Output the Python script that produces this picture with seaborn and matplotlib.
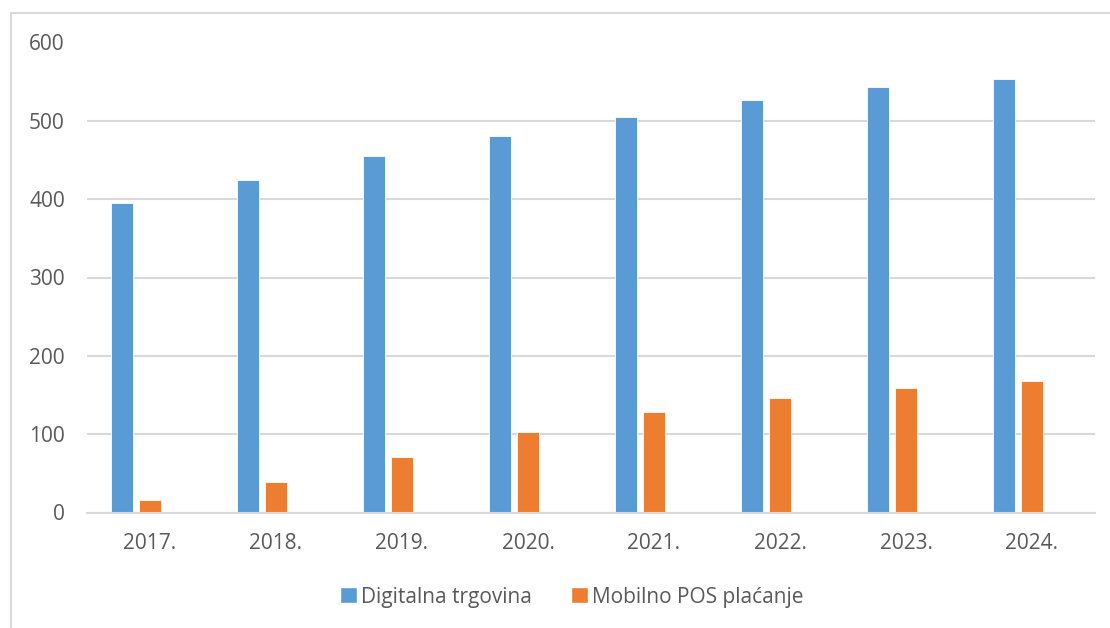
import pandas as pd
import matplotlib.pyplot as plt
import seaborn as sns
from matplotlib.patches import Patch, Rectangle

years = ['2017.', '2018.', '2019.', '2020.', '2021.', '2022.', '2023.', '2024.']
digitalna = [395, 424, 455, 480, 505, 526, 543, 554]
mobilno = [16, 39, 71, 103, 128, 146, 159, 168]

s1 = 'Digitalna trgovina'
s2 = 'Mobilno POS plaćanje'
s3 = 'prazno'  # empty third series, keeps the gap on the right like in Excel

blue = '#5b9bd5'
orange = '#ed7d31'
grid_c = '#d9d9d9'
text_c = '#595959'

df = pd.DataFrame({
    'godina': years * 2,
    'serija': [s1] * len(years) + [s2] * len(years),
    'vrijednost': digitalna + mobilno,
})

sns.set_style('white')
plt.rcParams['font.family'] = ['Open Sans', 'DejaVu Sans']

fig = plt.figure(figsize=(11.1, 6.28), dpi=100)
ax = fig.add_axes([87 / 1110, 1 - 512.5 / 628, 1008 / 1110, 470 / 628])

sns.barplot(data=df, x='godina', y='vrijednost', hue='serija',
            hue_order=[s1, s2, s3], palette=[blue, orange, 'white'],
            order=years, width=0.667, gap=0.21, legend=False, saturation=1,
            edgecolor='white', linewidth=0.6, ax=ax, zorder=3)

ax.set_ylim(0, 600)
ax.set_yticks(range(0, 601, 100))
ax.set_xlim(-0.5, len(years) - 0.5)
ax.yaxis.grid(True, color=grid_c, linewidth=1.5, zorder=0)
ax.set_axisbelow(True)
for sp in ['top', 'right', 'left']:
    ax.spines[sp].set_visible(False)
ax.spines['bottom'].set_color(grid_c)
ax.spines['bottom'].set_linewidth(1.5)
ax.spines['bottom'].set_zorder(4)
ax.set_xlabel('')
ax.set_ylabel('')
ax.tick_params(axis='both', length=0, labelsize=15, labelcolor=text_c)
ax.tick_params(axis='y', pad=16)
ax.tick_params(axis='x', pad=15)

handles = [Patch(facecolor=blue, label=s1), Patch(facecolor=orange, label=s2)]
fig.legend(handles=handles, loc='center', bbox_to_anchor=(572 / 1110, 1 - 597 / 628),
           ncol=2, frameon=False, fontsize=15, labelcolor=text_c,
           handlelength=0.8, handleheight=0.8, handletextpad=0.2, columnspacing=1.9)

# chart border (only left and top edge visible in the crop)
fig.patches.append(Rectangle((11 / 1110, -0.1), 1.2, 1 - 13 / 628 + 0.1,
                             transform=fig.transFigure, fill=False,
                             edgecolor=grid_c, linewidth=1.5))

fig.savefig('out.png', dpi=100)
